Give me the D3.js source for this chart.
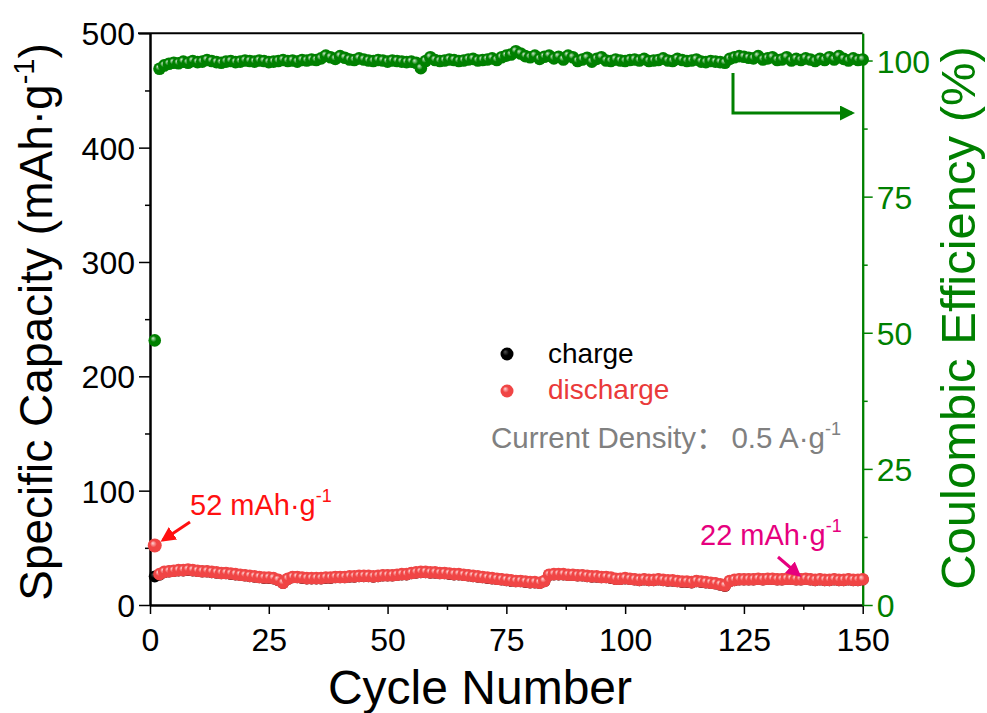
<!DOCTYPE html>
<meta charset="utf-8">
<style>
  body { margin: 0; background: #fff; }
  text { font-family: "Liberation Sans", Arial, sans-serif; }
</style>
<body>
<script src="https://d3js.org/d3.v7.min.js"></script>
<script>

// ---- data ----
var cycles = d3.range(1, 151);

var discharge = [52,27,29,29.5,30,30.5,30.5,31,30.5,30,
  29.5,29.5,29,28.5,28,28,27.5,27,26.5,26,
  25.5,25,24.5,24,24,23.5,22,19.5,23,24.5,
  24.5,24,23.5,23.5,23.5,23.5,24,24,24.5,24.5,
  24.5,25,25,25.5,25.5,25.5,25,25.5,26,26,
  26,26.5,27,27,28,28.5,29,29,28.5,28.5,
  28,28,27.5,27,27,26.5,26,25.5,25,24.5,
  24,23.5,23,22.5,22,21.5,21,21,20.5,20,
  20,19.5,21,26.5,27,27,27,26.5,26.5,26,
  26,25.5,25,25,24.5,24.5,24,23,23,23.5,
  23,22.5,22,22.5,22,22,22.5,22,21.5,21.5,
  21,20.5,20.5,20,21,20.5,20,19.5,19,18,
  17,21,22,22.5,22.5,22.5,22.5,23,22.5,23,
  23,22.5,22.5,23,23,22.5,22.5,23,22.5,22,
  22.5,22,22,22.5,22,22,22.5,22,22,22.5];

var charge = [25,26.5,28.7,29.2,29.7,30.2,30.2,30.7,30.2,29.7,
  29.2,29.2,28.7,28.2,27.7,27.7,27.2,26.7,26.2,25.7,
  25.2,24.7,24.2,23.7,23.7,23.2,21.7,19.2,22.7,24.2,
  24.2,23.7,23.2,23.2,23.2,23.2,23.7,23.7,24.2,24.2,
  24.2,24.7,24.7,25.2,25.2,25.2,24.7,25.2,25.7,25.7,
  25.7,26.2,26.7,26.7,27.7,28.2,28.6,28.7,28.2,28.2,
  27.7,27.7,27.2,26.7,26.7,26.2,25.7,25.2,24.7,24.2,
  23.7,23.2,22.7,22.2,21.7,21.2,20.7,20.7,20.2,19.7,
  19.7,19.2,20.7,26.2,26.7,26.7,26.7,26.2,26.2,25.7,
  25.7,25.2,24.7,24.7,24.2,24.2,23.7,22.7,22.7,23.2,
  22.7,22.2,21.7,22.2,21.7,21.7,22.2,21.7,21.2,21.2,
  20.7,20.2,20.2,19.7,20.7,20.2,19.7,19.2,18.7,17.7,
  16.7,20.7,21.7,22.2,22.2,22.2,22.2,22.7,22.2,22.7,
  22.7,22.2,22.2,22.7,22.7,22.2,22.2,22.7,22.2,21.7,
  22.2,21.7,21.7,22.2,21.7,21.7,22.2,21.7,21.7,22.2];

var efficiency = [48.6,98.5,99.1,99.4,99.6,99.5,99.8,99.6,99.9,99.7,
  99.8,100.1,99.9,99.7,99.6,99.8,99.9,99.7,99.8,100,
  99.9,99.8,100,99.9,99.7,99.8,99.9,100.1,99.9,100,
  99.8,100.1,100,100.2,100.1,100.4,100.9,100.6,100.3,100.8,
  100.5,100.2,100.1,100.4,100.2,100,99.9,100.1,100,99.8,
  100,99.9,99.8,99.7,99.8,99.6,98.6,99.9,100.6,100.1,
  99.9,100,100.2,100.1,99.9,100,100.2,100.3,100,100.1,
  100.2,100.4,100.1,100.6,100.9,101.1,101.7,101.3,100.8,100.6,
  100.9,100.3,100.7,100.9,100.4,100.7,100.2,100.9,100.6,99.9,
  100.2,100.5,99.8,100.3,100.6,100,99.9,100.2,100,99.9,
  100.1,100.2,100,100.3,99.9,100,100.1,100.4,100,99.9,
  100.3,100.1,99.9,100,100.2,99.8,99.7,99.9,99.8,99.7,
  99.6,100.3,100.6,100.8,100.7,100.5,100.4,100.8,100.2,100.4,
  100.6,100.1,100.2,100.6,100,100.3,100.1,100.4,100.2,99.9,
  100.3,100.1,100.6,100.2,100.8,100.3,100,100.4,100.1,100.2];

var xTicks = [0, 25, 50, 75, 100, 125, 150];
var yTicks = [0, 100, 200, 300, 400, 500];
var y2Ticks = [0, 25, 50, 75, 100];

// ---- layout ----
var W = 987, H = 713;
var margin = {top: 33.3, right: 124.3, bottom: 108, left: 150};
var width = W - margin.left - margin.right,
    height = H - margin.top - margin.bottom;

var green = "#008000", red = "#f04545", pink = "#e6007e";

var svg = d3.select("body").append("svg")
    .attr("width", W)
    .attr("height", H);

var defs = svg.append("defs");
function ball(id, light, base) {
  var g = defs.append("radialGradient").attr("id", id)
      .attr("cx", "50%").attr("cy", "50%").attr("r", "60%")
      .attr("fx", "35%").attr("fy", "32%");
  g.append("stop").attr("offset", "0%").attr("stop-color", light);
  g.append("stop").attr("offset", "40%").attr("stop-color", base);
  g.append("stop").attr("offset", "100%").attr("stop-color", base);
}
ball("gGreen", "#cfe8cf", green);
ball("gRed", "#ffd6d6", red);
ball("gBlack", "#555", "#000");

var marker = function(id, c) {
  defs.append("marker").attr("id", id)
      .attr("viewBox", "0 0 10 10").attr("refX", 8).attr("refY", 5)
      .attr("markerWidth", 5).attr("markerHeight", 5)
      .attr("orient", "auto")
    .append("path").attr("d", "M0,0L10,5L0,10z").attr("fill", c);
};
marker("aRed", "#ff1010");
marker("aPink", pink);
marker("aGreen", green);

var g = svg.append("g").attr("transform", "translate(" + margin.left + "," + margin.top + ")");

var x = d3.scaleLinear().domain([0, 150]).range([0, width]);
var y = d3.scaleLinear().domain([0, 500]).range([height, 0]);
var y2 = d3.scaleLinear().domain([0, 105]).range([height, 0]);

// frame top
g.append("line").attr("x1", -12).attr("x2", width).attr("y1", 0).attr("y2", 0)
    .attr("stroke", "#000").attr("stroke-width", 2);

// axes
var xAxis = g.append("g").attr("transform", "translate(0," + height + ")")
    .call(d3.axisBottom(x).tickValues(xTicks).tickSize(9).tickSizeOuter(0));
g.append("g").attr("transform", "translate(0," + height + ")")
    .call(d3.axisBottom(x).tickValues(d3.range(12.5, 150, 25)).tickSize(5).tickSizeOuter(0).tickFormat(""));

var yAxis = g.append("g")
    .call(d3.axisLeft(y).tickValues(yTicks).tickSize(11).tickSizeOuter(0));
g.append("g")
    .call(d3.axisLeft(y).tickValues(d3.range(50, 500, 100)).tickSize(5).tickSizeOuter(0).tickFormat(""));

var y2Axis = g.append("g").attr("transform", "translate(" + width + ",0)")
    .call(d3.axisRight(y2).tickValues(y2Ticks).tickSize(10).tickSizeOuter(0));
var y2Minor = g.append("g").attr("transform", "translate(" + width + ",0)")
    .call(d3.axisRight(y2).tickValues([12.5, 37.5, 62.5, 87.5]).tickSize(5).tickSizeOuter(0).tickFormat(""));

svg.selectAll(".domain").attr("stroke-width", 2);
svg.selectAll(".tick line").attr("stroke-width", 1.5);

xAxis.selectAll("text").attr("font-size", 32).attr("dy", "1.05em").attr("fill", "#000")
    .attr("font-family", "Liberation Sans, Arial, sans-serif");
yAxis.selectAll("text").attr("font-size", 32).attr("x", -15).attr("dy", "0.36em").attr("fill", "#000")
    .attr("font-family", "Liberation Sans, Arial, sans-serif");
y2Axis.selectAll("text").attr("font-size", 32).attr("x", 14).attr("dy", "0.36em").attr("fill", green)
    .attr("font-family", "Liberation Sans, Arial, sans-serif");
y2Axis.select(".domain").attr("stroke", green);
y2Axis.selectAll(".tick line").attr("stroke", green);
y2Minor.select(".domain").attr("stroke", green);
y2Minor.selectAll(".tick line").attr("stroke", green);

// series
g.append("g").selectAll("circle").data(cycles).join("circle")
    .attr("cx", function(d) { return x(d); })
    .attr("cy", function(d, i) { return y(charge[i]); })
    .attr("r", 6).attr("fill", "url(#gBlack)");

g.append("g").selectAll("circle").data(cycles).join("circle")
    .attr("cx", function(d) { return x(d); })
    .attr("cy", function(d, i) { return y(discharge[i]); })
    .attr("r", function(d, i) { return i === 0 ? 7 : 6.3; })
    .attr("fill", "url(#gRed)");

g.append("g").selectAll("circle").data(cycles).join("circle")
    .attr("cx", function(d) { return x(d); })
    .attr("cy", function(d, i) { return y2(efficiency[i]); })
    .attr("r", 6.3).attr("fill", "url(#gGreen)");

// axis titles
svg.append("text").attr("x", 480).attr("y", 704).attr("text-anchor", "middle")
    .attr("font-size", 48).text("Cycle Number");

var lt = svg.append("text").attr("transform", "translate(52,322) rotate(-90)")
    .attr("text-anchor", "middle").attr("font-size", 46);
lt.append("tspan").text("Specific Capacity (mAh·g");
lt.append("tspan").attr("font-size", 29).attr("dy", -18).text("-1");
lt.append("tspan").attr("dy", 18).text(")");

svg.append("text").attr("transform", "translate(975,318) rotate(-90)")
    .attr("text-anchor", "middle").attr("font-size", 49).attr("fill", green)
    .text("Coulombic Efficiency (%)");

// legend
var lg = svg.append("g");
lg.append("circle").attr("cx", 507).attr("cy", 354).attr("r", 6.5).attr("fill", "url(#gBlack)");
lg.append("text").attr("x", 548).attr("y", 363).attr("font-size", 28).text("charge");
lg.append("circle").attr("cx", 507).attr("cy", 391).attr("r", 6.5).attr("fill", "url(#gRed)");
lg.append("text").attr("x", 548).attr("y", 399).attr("font-size", 28).attr("fill", "#ea3a3a").text("discharge");

var cd = svg.append("text").attr("x", 491).attr("y", 448).attr("font-size", 29.5).attr("fill", "#808080");
cd.append("tspan").text("Current Density");
cd.append("tspan").attr("font-family", "Noto Sans CJK SC").text("：");
cd.append("tspan").attr("dx", 6).text("0.5 A·g");
cd.append("tspan").attr("font-size", 18).attr("dy", -13).text("-1");

// annotations
function label(xp, yp, c, s) {
  var t = svg.append("text").attr("x", xp).attr("y", yp).attr("font-size", 29).attr("fill", c);
  t.append("tspan").text(s);
  t.append("tspan").attr("font-size", 18).attr("dy", -13).text("-1");
}
label(190, 515, "#ff1010", "52 mAh·g");
label(700, 545, pink, "22 mAh·g");

svg.append("line").attr("x1", 190).attr("y1", 522).attr("x2", 163).attr("y2", 540)
    .attr("stroke", "#ff1010").attr("stroke-width", 3).attr("marker-end", "url(#aRed)");
svg.append("line").attr("x1", 778).attr("y1", 557).attr("x2", 799).attr("y2", 575)
    .attr("stroke", pink).attr("stroke-width", 3).attr("marker-end", "url(#aPink)");
svg.append("path").attr("d", "M733,73V113H852")
    .attr("fill", "none").attr("stroke", green).attr("stroke-width", 3).attr("marker-end", "url(#aGreen)");

</script>
</body>
